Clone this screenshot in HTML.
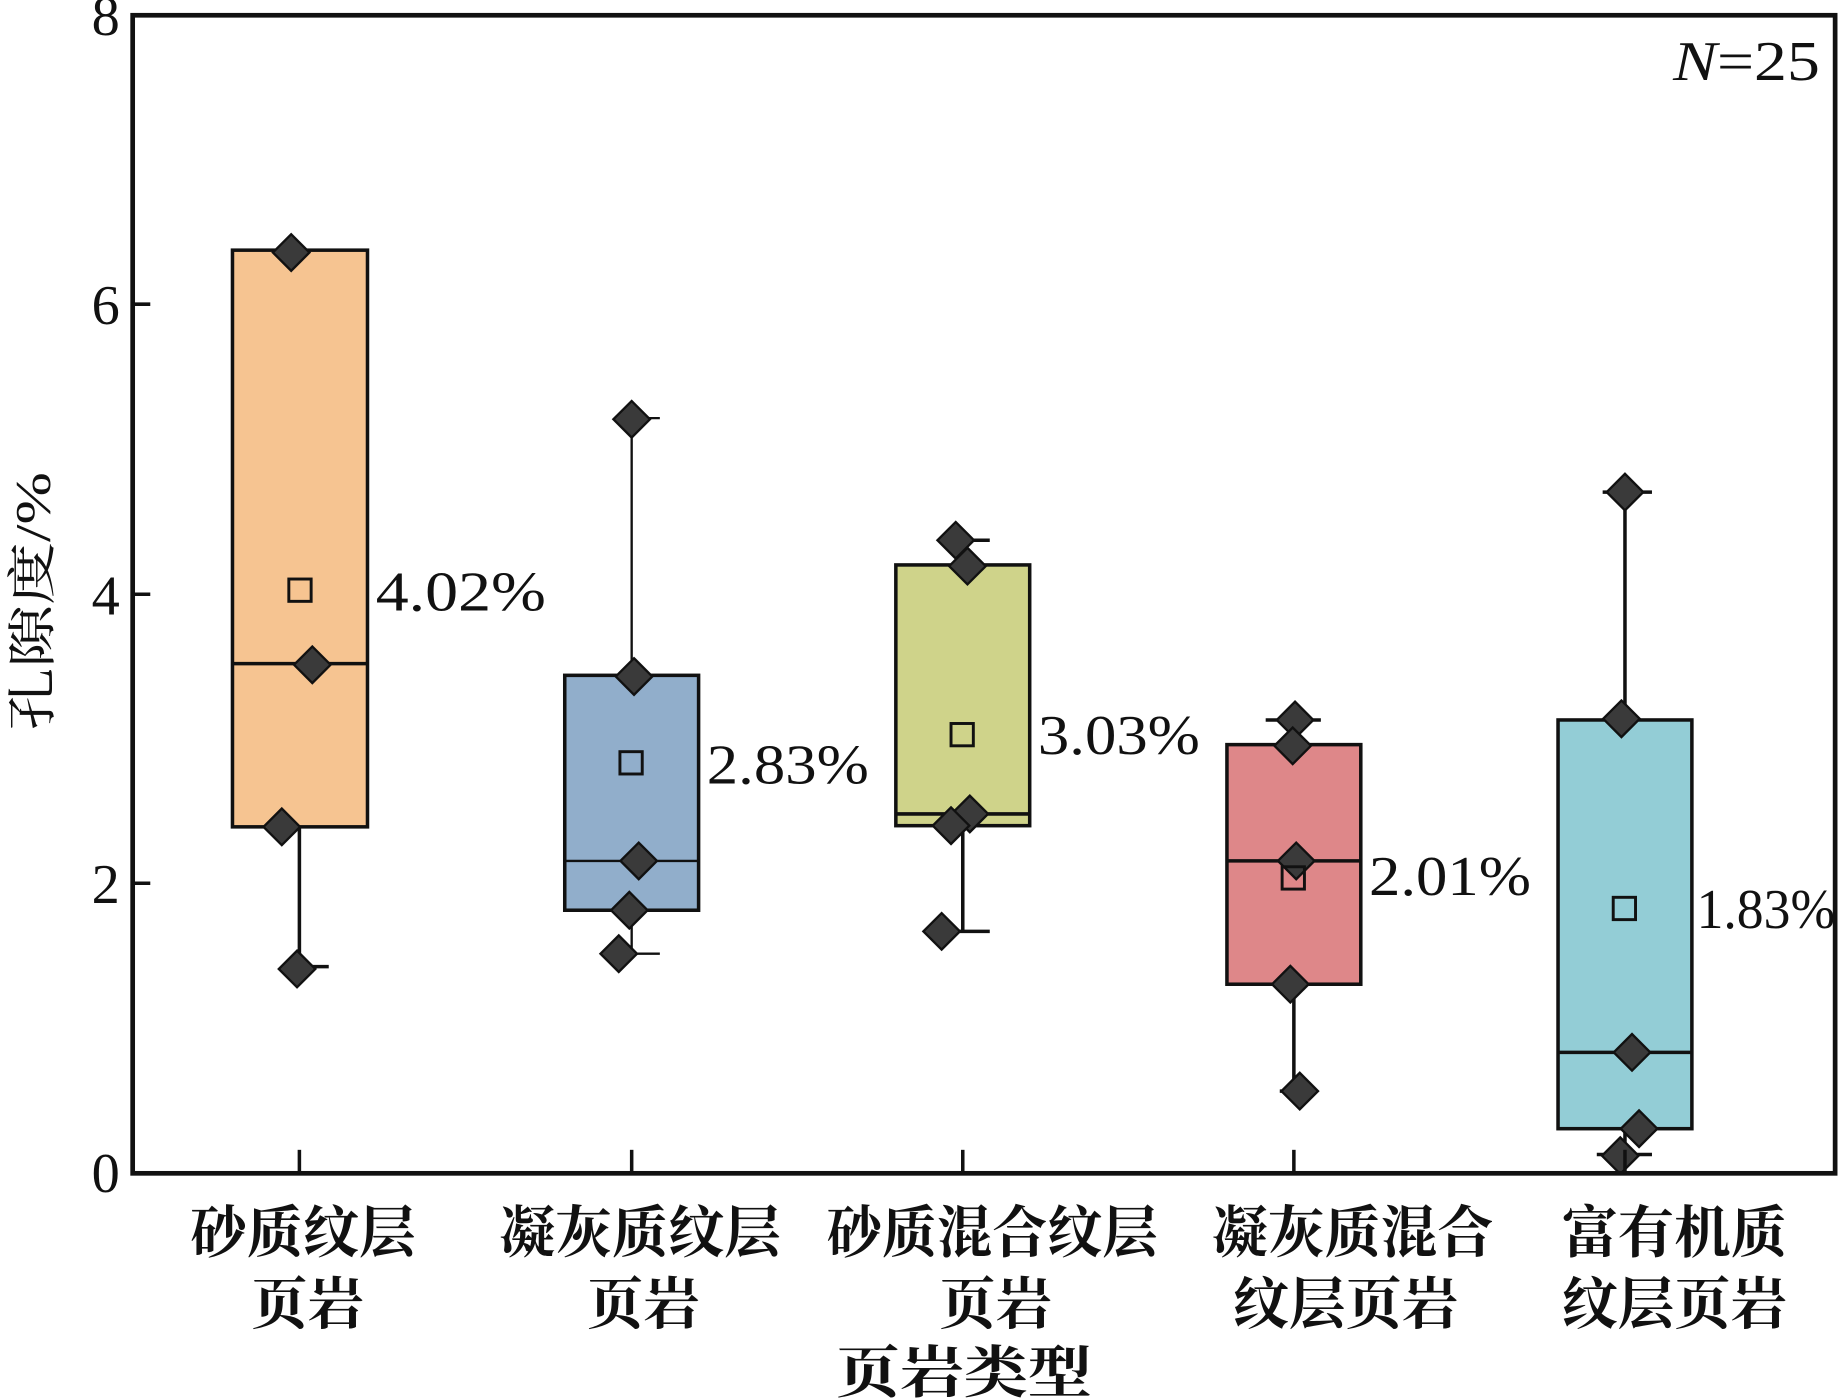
<!DOCTYPE html>
<html><head><meta charset="utf-8"><style>
html,body{margin:0;padding:0;background:#fff;}
svg{display:block;}
text{font-family:"Liberation Serif","Noto Serif CJK SC",serif;fill:#111;}
</style></head><body>
<svg width="1841" height="1400" viewBox="0 0 1568 1192" preserveAspectRatio="none" xmlns="http://www.w3.org/2000/svg">
<defs>
<g id="d"><rect x="-11" y="-11" width="22" height="22" transform="rotate(45)" fill="#3a3a3a" stroke="#111" stroke-width="2"/></g>
</defs>
<g stroke="#111" stroke-width="3" fill="none">
<line x1="255" y1="704" x2="255" y2="823"/><line x1="240" y1="823" x2="280" y2="823"/>
<rect x="198" y="213" width="115" height="491" fill="#f6c491"/>
<line x1="198" y1="565" x2="313" y2="565"/>
<line x1="538" y1="356" x2="538" y2="575" stroke-width="2"/><line x1="527" y1="356" x2="562" y2="356" stroke-width="2"/>
<line x1="538" y1="775" x2="538" y2="812" stroke-width="2"/><line x1="527" y1="812" x2="562" y2="812" stroke-width="2"/>
<rect x="481" y="575" width="114" height="200" fill="#91aecb"/>
<line x1="481" y1="733" x2="595" y2="733" stroke-width="2"/>
<line x1="820" y1="460" x2="820" y2="481"/><line x1="806" y1="460" x2="843" y2="460"/>
<line x1="820" y1="703" x2="820" y2="793"/><line x1="806" y1="793" x2="843" y2="793"/>
<rect x="763" y="481" width="114" height="222" fill="#cfd38a"/>
<line x1="763" y1="693" x2="877" y2="693"/>
<line x1="1102" y1="613" x2="1102" y2="634"/><line x1="1078" y1="613" x2="1125" y2="613"/>
<line x1="1102" y1="838" x2="1102" y2="929"/><line x1="1090" y1="929" x2="1120" y2="929"/>
<rect x="1045" y="634" width="114" height="204" fill="#de8789"/>
<line x1="1045" y1="733" x2="1159" y2="733"/>
<line x1="1384" y1="419" x2="1384" y2="613"/><line x1="1365" y1="419" x2="1407" y2="419"/>
<line x1="1384" y1="961" x2="1384" y2="983"/><line x1="1360" y1="983" x2="1407" y2="983"/>
<rect x="1327" y="613" width="114" height="348" fill="#93cdd6"/>
<line x1="1327" y1="896" x2="1441" y2="896"/>
</g>
<use href="#d" x="248" y="215"/><use href="#d" x="266" y="566"/><use href="#d" x="240" y="704"/><use href="#d" x="253" y="825"/>
<use href="#d" x="538" y="357"/><use href="#d" x="540" y="576"/><use href="#d" x="544" y="733"/><use href="#d" x="536" y="775"/><use href="#d" x="527" y="812"/>
<use href="#d" x="814" y="460"/><use href="#d" x="824" y="482"/><use href="#d" x="826" y="693"/><use href="#d" x="810" y="703"/><use href="#d" x="802" y="793"/>
<use href="#d" x="1103" y="613"/><use href="#d" x="1101" y="635"/><use href="#d" x="1104" y="733"/><use href="#d" x="1099" y="838"/><use href="#d" x="1107" y="929"/>
<use href="#d" x="1384" y="419"/><use href="#d" x="1381" y="612"/><use href="#d" x="1390" y="896"/><use href="#d" x="1396" y="961"/><use href="#d" x="1380" y="984"/>
<g fill="none" stroke="#111" stroke-width="2.5">
<rect x="246" y="493" width="19" height="19"/>
<rect x="528" y="640" width="19" height="19"/>
<rect x="810" y="616" width="19" height="19"/>
<rect x="1092" y="738" width="19" height="19"/>
<rect x="1374" y="764" width="19" height="19"/>
</g>
<g font-size="48" lengthAdjust="spacingAndGlyphs">
<text x="320" y="520" textLength="145" lengthAdjust="spacingAndGlyphs">4.02%</text>
<text x="602" y="667" textLength="138" lengthAdjust="spacingAndGlyphs">2.83%</text>
<text x="884" y="642" textLength="138" lengthAdjust="spacingAndGlyphs">3.03%</text>
<text x="1166" y="762" textLength="138" lengthAdjust="spacingAndGlyphs">2.01%</text>
<text x="1445" y="790" textLength="118" lengthAdjust="spacingAndGlyphs">1.83%</text>
</g>
<rect x="113" y="13" width="1450" height="986" fill="none" stroke="#111" stroke-width="4"/>
<g stroke="#111" stroke-width="3">
<line x1="255" y1="979" x2="255" y2="999"/><line x1="538" y1="979" x2="538" y2="999"/><line x1="820" y1="979" x2="820" y2="999"/><line x1="1102" y1="979" x2="1102" y2="999"/><line x1="1384" y1="979" x2="1384" y2="999"/>
<line x1="113" y1="259" x2="128" y2="259"/><line x1="113" y1="506" x2="128" y2="506"/><line x1="113" y1="752" x2="128" y2="752"/>
</g>
<g font-size="48" text-anchor="end">
<text x="102" y="30">8</text><text x="102" y="276">6</text><text x="102" y="523">4</text><text x="102" y="769">2</text><text x="102" y="1015">0</text>
</g>
<text x="1425" y="68" font-size="48" textLength="125" lengthAdjust="spacingAndGlyphs"><tspan font-style="italic">N</tspan>=25</text>
<text transform="translate(42,512) rotate(-90)" font-size="42" text-anchor="middle" textLength="220" lengthAdjust="spacingAndGlyphs">孔隙度/%</text>
<g font-size="48" text-anchor="middle" font-weight="bold">
<text x="258" y="1066">砂质纹层</text><text x="262" y="1127">页岩</text>
<text x="545" y="1066" textLength="240" lengthAdjust="spacingAndGlyphs">凝灰质纹层</text><text x="548" y="1127">页岩</text>
<text x="845" y="1066" textLength="282" lengthAdjust="spacingAndGlyphs">砂质混合纹层</text><text x="848" y="1127">页岩</text>
<text x="1152" y="1066" textLength="240" lengthAdjust="spacingAndGlyphs">凝灰质混合</text><text x="1146" y="1127">纹层页岩</text>
<text x="1426" y="1066">富有机质</text><text x="1426" y="1127">纹层页岩</text>
<text x="821" y="1185" textLength="218" lengthAdjust="spacingAndGlyphs">页岩类型</text>
</g>
</svg>
</body></html>
